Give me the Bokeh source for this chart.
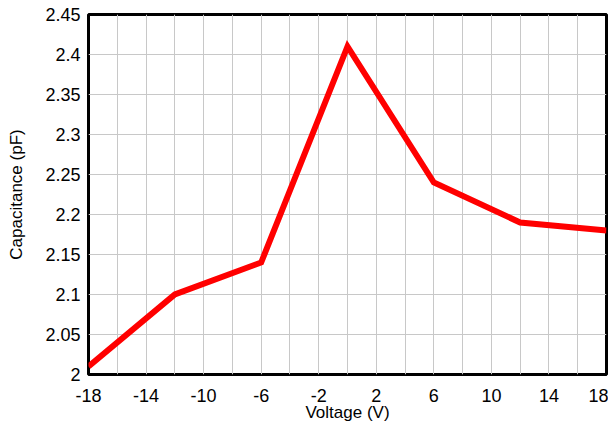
from bokeh.plotting import figure
from bokeh.models import FixedTicker, Range1d
from bokeh.embed import file_html
from bokeh.resources import INLINE

voltage = [-18, -12, -6, 0, 6, 12, 18]
capacitance = [2.01, 2.10, 2.14, 2.41, 2.24, 2.19, 2.18]
x_ticks = [-18, -14, -10, -6, -2, 2, 6, 10, 14, 18]
x_labels = ["-18", "-14", "-10", "-6", "-2", "2", "6", "10", "14", "18"]
x_grid = list(range(-18, 19, 2))
y_ticks = [2.0, 2.05, 2.1, 2.15, 2.2, 2.25, 2.3, 2.35, 2.4, 2.45]
y_labels = ["2", "2.05", "2.1", "2.15", "2.2", "2.25", "2.3", "2.35", "2.4", "2.45"]

p = figure(width=608, height=424, output_backend="svg", toolbar_location=None,
           x_range=Range1d(-18, 18), y_range=Range1d(2.0, 2.45),
           min_border_top=14, min_border_right=2, min_border_left=88, min_border_bottom=40)

p.line(voltage, capacitance, line_color="#ff0000", line_width=6, line_join="miter")

p.outline_line_color = "black"
p.outline_line_width = 3
p.outline_line_alpha = 1

p.xaxis.ticker = FixedTicker(ticks=x_ticks)
p.yaxis.ticker = FixedTicker(ticks=y_ticks)
p.xaxis.major_label_overrides = {t: l for t, l in zip(x_ticks, x_labels)}
p.yaxis.major_label_overrides = {t: l for t, l in zip(y_ticks, y_labels)}
p.xgrid.ticker = FixedTicker(ticks=x_grid)
p.ygrid.ticker = FixedTicker(ticks=y_ticks)
p.grid.grid_line_color = "#c8c8c8"
p.grid.grid_line_width = 1
p.grid.grid_line_alpha = 1

for ax in (p.xaxis, p.yaxis):
    ax.axis_line_color = None
    ax.major_tick_line_color = None
    ax.minor_tick_line_color = None
    ax.major_tick_out = 0
    ax.major_tick_in = 0
    ax.minor_tick_out = 0
    ax.minor_tick_in = 0
    ax.major_label_text_font = "Liberation Sans"
    ax.major_label_text_font_size = "18px"
    ax.major_label_text_color = "black"
    ax.axis_label_text_font = "Liberation Sans"
    ax.axis_label_text_font_size = "17px"
    ax.axis_label_text_font_style = "normal"
    ax.axis_label_text_color = "black"

p.xaxis.axis_label = "Voltage (V)"
p.yaxis.axis_label = "Capacitance (pF)"
p.xaxis.major_label_standoff = 14
p.yaxis.major_label_standoff = 8
p.xaxis.axis_label_standoff = -2
p.yaxis.axis_label_standoff = 16

open("out.html", "w").write(file_html(p, INLINE))
